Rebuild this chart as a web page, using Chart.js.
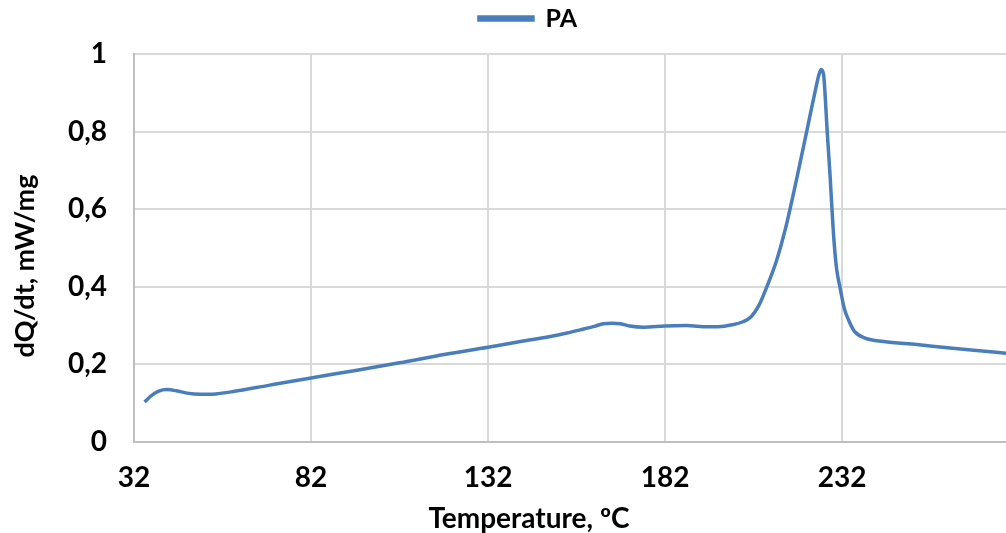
<!DOCTYPE html>
<html>
<head>
<meta charset="utf-8">
<script src="https://cdn.jsdelivr.net/npm/chart.js@4/dist/chart.umd.min.js"></script>
<style>
  html, body { margin: 0; padding: 0; background: #fff; }
  #wrap { width: 1006px; height: 533px; position: relative; }
</style>
</head>
<body>
<div id="wrap"><canvas id="c" width="1006" height="533"></canvas></div>
<script>
const seriesName = 'PA';
const temperature = [35.0, 37.0, 39.0, 41.3, 44.0, 47.0, 50.7, 55, 60, 70, 82, 95, 107, 120, 132, 140, 149.6, 154.3, 158, 162, 164.6, 167, 169.4, 172, 176, 182, 188, 194, 197, 201, 204, 206.3, 208.5, 210.7, 213.5, 215.9, 219.4, 222.0, 224.3, 225.5, 226.1, 226.8, 227.3, 227.8, 228.6, 229.5, 230.4, 231.4, 232.6, 233.8, 235.5, 238.5, 243.7, 253.1, 262.5, 270, 278.3];
const dQdt = [0.103, 0.120, 0.131, 0.135, 0.132, 0.126, 0.123, 0.124, 0.130, 0.146, 0.165, 0.185, 0.204, 0.226, 0.244, 0.257, 0.272, 0.281, 0.289, 0.298, 0.305, 0.306, 0.305, 0.299, 0.296, 0.299, 0.300, 0.297, 0.297, 0.302, 0.310, 0.323, 0.352, 0.399, 0.468, 0.546, 0.688, 0.800, 0.900, 0.948, 0.960, 0.945, 0.880, 0.800, 0.688, 0.546, 0.450, 0.399, 0.345, 0.315, 0.285, 0.268, 0.259, 0.251, 0.242, 0.236, 0.229];
const xTickValues = [32, 82, 132, 182, 232];
const yTickLabels = ['0', '0,2', '0,4', '0,6', '0,8', '1'];
const xTitle = 'Temperature, ºC';
const yTitle = 'dQ/dt, mW/mg';

const points = temperature.map((t, i) => ({ x: t, y: dQdt[i] }));
const FONT = 'Lato, "Liberation Sans", sans-serif';

const layoutTweaks = {
  id: 'layoutTweaks',
  afterInit(chart) {
    const lg = chart.legend;
    if (lg) {
      const fit = lg.fit;
      lg.fit = function () { fit.call(this); this.height = 54; };
    }
  },
  afterLayout(chart) {
    const lg = chart.legend;
    if (lg) { lg.left += 50; }
    const wrapTitle = (scale, dx, dy) => {
      if (!scale || scale._titleWrapped) return;
      const orig = scale.drawTitle;
      scale.drawTitle = function () {
        const ctx = this.ctx;
        ctx.save();
        ctx.translate(dx, dy);
        orig.apply(this, arguments);
        ctx.restore();
      };
      scale._titleWrapped = true;
    };
    wrapTitle(chart.scales.y, 0, 18);
    wrapTitle(chart.scales.x, -41, 0);
  }
};

new Chart(document.getElementById('c'), {
  type: 'line',
  data: {
    datasets: [{
      label: seriesName,
      data: points,
      borderColor: '#4a7ebb',
      backgroundColor: '#4a7ebb',
      borderWidth: 3.5,
      pointRadius: 0,
      tension: 0.4,
      cubicInterpolationMode: 'monotone',
      fill: false
    }]
  },
  plugins: [layoutTweaks],
  options: {
    responsive: false,
    animation: false,
    layout: { padding: 0 },
    plugins: {
      legend: {
        display: true,
        position: 'top',
        labels: {
          boxWidth: 54,
          boxHeight: 3,
          color: '#000',
          font: { family: FONT, size: 25, weight: 'bold' },
          padding: 6
        }
      },
      tooltip: { enabled: false }
    },
    scales: {
      x: {
        type: 'linear',
        min: 32,
        max: 278.3,
        afterBuildTicks(scale) { scale.ticks = xTickValues.map(v => ({ value: v })); },
        afterFit(scale) { scale.height = 91; },
        ticks: {
          color: '#000',
          font: { family: FONT, size: 28, weight: 'bold' },
          padding: 19,
          maxRotation: 0,
          callback: (v) => String(v)
        },
        grid: { color: '#d9d9d9', lineWidth: 2, drawTicks: false },
        border: { color: '#bfbfbf', width: 2 },
        title: {
          display: true,
          text: xTitle,
          color: '#000',
          font: { family: FONT, size: 28, weight: 'bold' },
          padding: { top: 0, bottom: -3 }
        }
      },
      y: {
        type: 'linear',
        min: 0,
        max: 1,
        afterFit(scale) { scale.width = 134; },
        ticks: {
          stepSize: 0.2,
          color: '#000',
          font: { family: FONT, size: 28, weight: 'bold' },
          padding: 27,
          callback: (v, i) => yTickLabels[i]
        },
        grid: { color: '#d9d9d9', lineWidth: 2, drawTicks: false },
        border: { color: '#bfbfbf', width: 2 },
        title: {
          display: true,
          text: yTitle,
          color: '#000',
          font: { family: FONT, size: 27, weight: 'bold' },
          padding: { top: 9, bottom: 0 }
        }
      }
    }
  }
});
</script>
</body>
</html>
